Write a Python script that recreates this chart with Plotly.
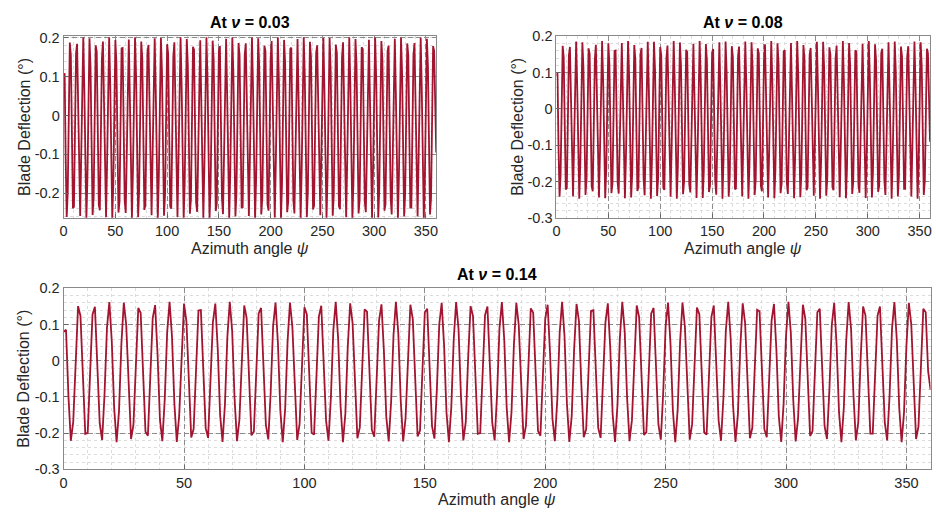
import plotly.graph_objects as go

# Azimuth sample positions (deg)
AZIMUTH = list(range(0, 361))

# Blade deflection (deg)
DEFL_NU_003 = [
    0.100, 0.109, -0.112, -0.261, -0.197, 0.021, 0.188, 0.155, -0.052, -0.239, -0.235, -0.044, 0.160, 0.185, 0.013, -0.203, -0.259, -0.104, 0.115,
    0.201, 0.070, -0.152, -0.266, -0.163, 0.063, 0.199, 0.125, -0.097, -0.256, -0.209, 0.001, 0.181, 0.164, -0.033, -0.230, -0.244, -0.061, 0.147,
    0.191, 0.029, -0.190, -0.262, -0.123, 0.101, 0.202, 0.087, -0.138, -0.265, -0.177, 0.045, 0.195, 0.137, -0.078, -0.250, -0.221, -0.018, 0.173,
    0.174, -0.015, -0.219, -0.251, -0.080, 0.135, 0.196, 0.047, -0.175, -0.265, -0.140, 0.085, 0.202, 0.103, -0.121, -0.262, -0.191, 0.027, 0.191,
    0.149, -0.060, -0.243, -0.231, -0.036, 0.163, 0.182, 0.003, -0.208, -0.257, -0.098, 0.122, 0.199, 0.064, -0.160, -0.266, -0.156, 0.069, 0.200,
    0.117, -0.104, -0.258, -0.204, 0.009, 0.184, 0.160, -0.041, -0.234, -0.240, -0.054, 0.152, 0.189, 0.021, -0.195, -0.261, -0.116, 0.107, 0.202,
    0.080, -0.145, -0.266, -0.171, 0.052, 0.197, 0.131, -0.086, -0.253, -0.216, -0.009, 0.177, 0.170, -0.023, -0.224, -0.248, -0.072, 0.140, 0.194,
    0.039, -0.182, -0.264, -0.132, 0.092, 0.202, 0.096, -0.128, -0.264, -0.185, 0.035, 0.193, 0.144, -0.068, -0.246, -0.227, -0.028, 0.168, 0.179,
    -0.005, -0.213, -0.254, -0.090, 0.128, 0.198, 0.056, -0.167, -0.266, -0.149, 0.076, 0.201, 0.111, -0.111, -0.260, -0.199, 0.017, 0.187, 0.155,
    -0.050, -0.238, -0.236, -0.046, 0.157, 0.186, 0.013, -0.201, -0.259, -0.108, 0.114, 0.201, 0.073, -0.152, -0.266, -0.164, 0.060, 0.199, 0.125,
    -0.094, -0.255, -0.211, -0.001, 0.180, 0.166, -0.031, -0.229, -0.245, -0.064, 0.146, 0.192, 0.031, -0.188, -0.263, -0.125, 0.099, 0.202, 0.089,
    -0.135, -0.265, -0.179, 0.042, 0.195, 0.138, -0.076, -0.249, -0.222, -0.020, 0.172, 0.175, -0.013, -0.218, -0.252, -0.082, 0.133, 0.197, 0.049,
    -0.174, -0.265, -0.142, 0.083, 0.202, 0.104, -0.119, -0.262, -0.193, 0.025, 0.190, 0.150, -0.058, -0.242, -0.232, -0.038, 0.162, 0.181, 0.005,
    -0.207, -0.257, -0.100, 0.120, 0.200, 0.066, -0.159, -0.266, -0.157, 0.067, 0.200, 0.119, -0.101, -0.258, -0.206, 0.007, 0.183, 0.161, -0.039,
    -0.233, -0.241, -0.056, 0.151, 0.189, 0.023, -0.194, -0.262, -0.118, 0.106, 0.202, 0.082, -0.143, -0.265, -0.173, 0.050, 0.197, 0.133, -0.084,
    -0.252, -0.217, -0.011, 0.176, 0.171, -0.021, -0.223, -0.249, -0.075, 0.139, 0.195, 0.041, -0.180, -0.264, -0.135, 0.090, 0.202, 0.098, -0.126,
    -0.263, -0.187, 0.033, 0.192, 0.145, -0.066, -0.245, -0.228, -0.030, 0.166, 0.180, -0.003, -0.212, -0.255, -0.092, 0.125, 0.198, 0.058, -0.165,
    -0.266, -0.151, 0.074, 0.201, 0.113, -0.109, -0.260, -0.200, 0.015, 0.186, 0.156, -0.047, -0.237, -0.237, -0.048, 0.156, 0.187, 0.015, -0.200,
    -0.260, -0.110, 0.112, 0.201, 0.075, -0.150, -0.266, -0.166, 0.057, 0.198, 0.127, -0.091, -0.255, -0.212, -0.003, 0.179, 0.167, -0.029, -0.095,
]

DEFL_NU_008 = [
    0.090, 0.101, -0.104, -0.242, -0.183, 0.019, 0.174, 0.143, -0.049, -0.222, -0.218, -0.041, 0.148, 0.171, 0.011, -0.189, -0.241, -0.097, 0.107,
    0.186, 0.065, -0.142, -0.247, -0.151, 0.058, 0.184, 0.115, -0.090, -0.237, -0.194, 0.000, 0.167, 0.152, -0.031, -0.214, -0.227, -0.056, 0.136,
    0.177, 0.027, -0.176, -0.244, -0.114, 0.093, 0.187, 0.081, -0.128, -0.246, -0.165, 0.041, 0.181, 0.126, -0.073, -0.232, -0.205, -0.017, 0.160,
    0.161, -0.014, -0.204, -0.233, -0.075, 0.125, 0.182, 0.043, -0.163, -0.246, -0.130, 0.079, 0.187, 0.095, -0.112, -0.244, -0.178, 0.024, 0.176,
    0.138, -0.056, -0.226, -0.215, -0.034, 0.151, 0.168, 0.003, -0.193, -0.238, -0.091, 0.112, 0.185, 0.059, -0.149, -0.247, -0.145, 0.064, 0.185,
    0.108, -0.096, -0.240, -0.190, 0.008, 0.171, 0.148, -0.039, -0.218, -0.223, -0.050, 0.141, 0.175, 0.019, -0.181, -0.242, -0.107, 0.099, 0.187,
    0.074, -0.134, -0.247, -0.159, 0.048, 0.183, 0.121, -0.080, -0.235, -0.201, -0.009, 0.163, 0.157, -0.022, -0.208, -0.230, -0.067, 0.130, 0.180,
    0.036, -0.169, -0.245, -0.123, 0.085, 0.187, 0.089, -0.119, -0.245, -0.172, 0.032, 0.179, 0.133, -0.063, -0.229, -0.211, -0.026, 0.155, 0.165,
    -0.005, -0.198, -0.236, -0.084, 0.118, 0.184, 0.052, -0.155, -0.247, -0.138, 0.070, 0.186, 0.103, -0.103, -0.242, -0.185, 0.015, 0.173, 0.144,
    -0.046, -0.221, -0.219, -0.043, 0.146, 0.172, 0.012, -0.187, -0.241, -0.100, 0.105, 0.186, 0.067, -0.141, -0.247, -0.153, 0.055, 0.184, 0.116,
    -0.087, -0.237, -0.196, -0.002, 0.167, 0.153, -0.029, -0.212, -0.227, -0.060, 0.135, 0.178, 0.029, -0.175, -0.244, -0.116, 0.091, 0.187, 0.082,
    -0.126, -0.246, -0.166, 0.039, 0.181, 0.128, -0.071, -0.232, -0.206, -0.019, 0.159, 0.162, -0.012, -0.203, -0.234, -0.077, 0.123, 0.182, 0.045,
    -0.161, -0.246, -0.132, 0.077, 0.187, 0.097, -0.111, -0.243, -0.179, 0.023, 0.176, 0.139, -0.054, -0.224, -0.216, -0.035, 0.150, 0.168, 0.005,
    -0.192, -0.239, -0.093, 0.111, 0.185, 0.061, -0.147, -0.247, -0.146, 0.062, 0.185, 0.110, -0.094, -0.239, -0.191, 0.006, 0.170, 0.149, -0.037,
    -0.216, -0.224, -0.053, 0.140, 0.175, 0.021, -0.180, -0.243, -0.109, 0.098, 0.187, 0.076, -0.133, -0.246, -0.160, 0.046, 0.182, 0.123, -0.078,
    -0.234, -0.202, -0.011, 0.162, 0.158, -0.020, -0.207, -0.231, -0.070, 0.129, 0.180, 0.038, -0.167, -0.245, -0.126, 0.083, 0.187, 0.090, -0.117,
    -0.244, -0.174, 0.030, 0.178, 0.134, -0.061, -0.228, -0.212, -0.028, 0.154, 0.166, -0.003, -0.197, -0.237, -0.086, 0.116, 0.184, 0.054, -0.154,
    -0.247, -0.140, 0.069, 0.186, 0.104, -0.102, -0.241, -0.186, 0.013, 0.172, 0.145, -0.044, -0.220, -0.220, -0.045, 0.144, 0.173, 0.014, -0.185,
    -0.241, -0.102, 0.103, 0.186, 0.069, -0.139, -0.247, -0.154, 0.053, 0.184, 0.117, -0.085, -0.237, -0.197, -0.004, 0.166, 0.154, -0.027, -0.090,
]

DEFL_NU_014 = [
    0.080, 0.086, -0.097, -0.221, -0.168, 0.013, 0.151, 0.124, -0.048, -0.202, -0.199, -0.041, 0.128, 0.149, 0.006, -0.173, -0.219, -0.091, 0.091,
    0.162, 0.054, -0.131, -0.225, -0.139, 0.048, 0.161, 0.099, -0.085, -0.216, -0.177, -0.004, 0.146, 0.132, -0.032, -0.196, -0.207, -0.055, 0.118,
    0.154, 0.020, -0.162, -0.222, -0.106, 0.079, 0.163, 0.068, -0.118, -0.224, -0.151, 0.032, 0.158, 0.109, -0.069, -0.212, -0.188, -0.019, 0.139,
    0.140, -0.017, -0.186, -0.213, -0.071, 0.107, 0.158, 0.034, -0.150, -0.224, -0.120, 0.066, 0.163, 0.081, -0.105, -0.222, -0.163, 0.018, 0.153,
    0.119, -0.054, -0.206, -0.196, -0.034, 0.131, 0.146, -0.002, -0.177, -0.217, -0.086, 0.096, 0.161, 0.048, -0.138, -0.225, -0.133, 0.053, 0.161,
    0.093, -0.090, -0.219, -0.174, 0.003, 0.148, 0.128, -0.039, -0.199, -0.204, -0.049, 0.122, 0.152, 0.013, -0.166, -0.221, -0.100, 0.084, 0.163,
    0.062, -0.124, -0.225, -0.146, 0.039, 0.159, 0.104, -0.076, -0.214, -0.184, -0.012, 0.142, 0.136, -0.024, -0.191, -0.210, -0.064, 0.112, 0.156,
    0.028, -0.155, -0.223, -0.114, 0.072, 0.163, 0.075, -0.111, -0.223, -0.158, 0.024, 0.155, 0.115, -0.061, -0.209, -0.193, -0.028, 0.134, 0.144,
    -0.009, -0.181, -0.215, -0.079, 0.101, 0.160, 0.042, -0.143, -0.225, -0.128, 0.059, 0.162, 0.088, -0.097, -0.220, -0.169, 0.010, 0.151, 0.124,
    -0.046, -0.202, -0.200, -0.043, 0.126, 0.150, 0.007, -0.171, -0.220, -0.094, 0.090, 0.162, 0.056, -0.130, -0.225, -0.141, 0.045, 0.160, 0.099,
    -0.082, -0.216, -0.179, -0.006, 0.145, 0.133, -0.030, -0.194, -0.207, -0.058, 0.116, 0.155, 0.021, -0.160, -0.222, -0.108, 0.077, 0.163, 0.069,
    -0.117, -0.224, -0.153, 0.031, 0.157, 0.110, -0.067, -0.211, -0.189, -0.021, 0.138, 0.140, -0.015, -0.185, -0.213, -0.073, 0.106, 0.159, 0.036,
    -0.148, -0.224, -0.122, 0.064, 0.163, 0.082, -0.103, -0.222, -0.164, 0.016, 0.153, 0.120, -0.052, -0.205, -0.197, -0.036, 0.130, 0.146, 0.000,
    -0.176, -0.218, -0.087, 0.095, 0.161, 0.050, -0.136, -0.225, -0.135, 0.051, 0.161, 0.094, -0.089, -0.218, -0.175, 0.001, 0.147, 0.129, -0.037,
    -0.198, -0.204, -0.051, 0.121, 0.153, 0.015, -0.165, -0.221, -0.102, 0.083, 0.163, 0.063, -0.123, -0.224, -0.148, 0.037, 0.159, 0.105, -0.074,
    -0.214, -0.185, -0.014, 0.141, 0.137, -0.022, -0.189, -0.211, -0.066, 0.111, 0.157, 0.030, -0.154, -0.224, -0.117, 0.070, 0.163, 0.076, -0.109,
    -0.223, -0.159, 0.023, 0.155, 0.116, -0.059, -0.208, -0.194, -0.029, 0.134, 0.144, -0.007, -0.180, -0.216, -0.081, 0.099, 0.160, 0.044, -0.142,
    -0.225, -0.129, 0.057, 0.162, 0.089, -0.095, -0.220, -0.170, 0.008, 0.150, 0.125, -0.044, -0.201, -0.201, -0.044, 0.125, 0.150, 0.008, -0.170,
    -0.220, -0.096, 0.088, 0.162, 0.058, -0.129, -0.225, -0.142, 0.043, 0.160, 0.101, -0.080, -0.216, -0.181, -0.007, 0.144, 0.134, -0.028, -0.080,
]

X_TICKS = [0, 50, 100, 150, 200, 250, 300, 350]
X_TICK_TEXT = ["0", "50", "100", "150", "200", "250", "300", "350"]
Y_TICKS_A = [-0.2, -0.1, 0.0, 0.1, 0.2]
Y_TICK_TEXT_A = ["-0.2", "-0.1", "0", "0.1", "0.2"]
Y_TICKS_B = [-0.3, -0.2, -0.1, 0.0, 0.1, 0.2]
Y_TICK_TEXT_B = ["-0.3", "-0.2", "-0.1", "0", "0.1", "0.2"]

TITLES = ["At <i>ν</i> = 0.03", "At <i>ν</i> = 0.08", "At <i>ν</i> = 0.14"]
XLABEL = "Azimuth angle <i>ψ</i>"
YLABEL = "Blade Deflection (°)"

W, H = 936, 521
LINE_COLOR = "#A2142F"
FONT = "Liberation Sans, Arial, Helvetica, sans-serif"
TXT = "#262626"


def px_x(p):
    return p / W


def px_y(p):
    return 1 - p / H


# panel boxes in pixels: (left, right, top, bottom)
PANELS = [
    (60, 435, 29.3, 216.5),
    (556, 932, 29.3, 216.5),
    (60, 932.5, 289.3, 476),
]

fig = go.Figure()
series = [DEFL_NU_003, DEFL_NU_008, DEFL_NU_014]
for i, ys in enumerate(series):
    suffix = "" if i == 0 else str(i + 1)
    fig.add_trace(go.Scatter(
        x=AZIMUTH, y=ys, mode="lines",
        line=dict(color=LINE_COLOR, width=1.8),
        xaxis="x" + suffix, yaxis="y" + suffix, showlegend=False,
        cliponaxis=True,
    ))

layout = dict(
    width=W, height=H, autosize=False,
    margin=dict(l=0, r=0, t=0, b=0),
    paper_bgcolor="white", plot_bgcolor="white",
    font=dict(family=FONT, color=TXT, size=14),
    showlegend=False,
)

yranges = [[-0.2635, 0.204], [-0.3, 0.2], [-0.3, 0.2]]
yticks = [(Y_TICKS_A, Y_TICK_TEXT_A), (Y_TICKS_B, Y_TICK_TEXT_B), (Y_TICKS_B, Y_TICK_TEXT_B)]

annotations = []
for i, (l, r, t, b) in enumerate(PANELS):
    suffix = "" if i == 0 else str(i + 1)
    xa = dict(
        domain=[px_x(l), px_x(r)], range=[0, 360],
        anchor="y" + suffix,
        tickmode="array", tickvals=X_TICKS, ticktext=X_TICK_TEXT,
        ticks="inside", ticklen=4, tickcolor="#666", tickwidth=1,
        tickfont=dict(size=14.5, color=TXT, family=FONT),
        showline=True, linecolor="#8a8a8a", linewidth=1, mirror=True,
        showgrid=True, gridcolor="#8c8c8c", griddash="5px,3px", gridwidth=1,
        zeroline=False,
        minor=dict(dtick=10, tick0=0, showgrid=True, gridcolor="#dcdcdc",
                   griddash="dot", gridwidth=1),
        fixedrange=True,
    )
    ya = dict(
        domain=[px_y(b), px_y(t)], range=yranges[i],
        anchor="x" + suffix,
        tickmode="array", tickvals=yticks[i][0], ticktext=yticks[i][1],
        ticks="inside", ticklen=4, tickcolor="#666", tickwidth=1,
        tickfont=dict(size=14.5, color=TXT, family=FONT),
        showline=True, linecolor="#8a8a8a", linewidth=1, mirror=True,
        showgrid=True, gridcolor="#8c8c8c", griddash="5px,3px", gridwidth=1,
        zeroline=False,
        minor=dict(dtick=0.02, tick0=0, showgrid=True, gridcolor="#dcdcdc",
                   griddash="dot", gridwidth=1),
        fixedrange=True,
    )
    layout["xaxis" + suffix] = xa
    layout["yaxis" + suffix] = ya

    cx = (l + r) / 2
    cy = (t + b) / 2
    # panel title
    annotations.append(dict(
        text="<b>" + TITLES[i] + "</b>", xref="paper", yref="paper",
        x=px_x(cx), y=px_y(t - 14.5), xanchor="center", yanchor="middle",
        showarrow=False, font=dict(size=16, color="black", family=FONT),
    ))
    # x label
    annotations.append(dict(
        text=XLABEL, xref="paper", yref="paper",
        x=px_x(cx), y=px_y(b + 31.5), xanchor="center", yanchor="middle",
        showarrow=False, font=dict(size=16, color=TXT, family=FONT),
    ))
    # y label
    annotations.append(dict(
        text=YLABEL, xref="paper", yref="paper",
        x=px_x(l - 40), y=px_y(cy), xanchor="center", yanchor="middle",
        textangle=-90,
        showarrow=False, font=dict(size=16, color=TXT, family=FONT),
    ))

layout["annotations"] = annotations
fig.update_layout(**layout)
fig.write_html("out.html")
